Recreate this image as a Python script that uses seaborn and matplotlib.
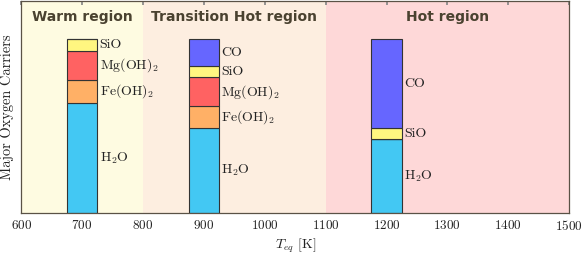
import seaborn as sns
import matplotlib.pyplot as plt
import numpy as np

# equilibrium temperatures of the three cases
temps = [700, 900, 1200]
species = ['H$_2$O', 'Fe(OH)$_2$', 'Mg(OH)$_2$', 'SiO', 'CO']
h2o = [0.635, 0.49, 0.425]
feoh2 = [0.13, 0.125, 0.0]
mgoh2 = [0.17, 0.165, 0.0]
sio = [0.065, 0.065, 0.065]
co = [0.0, 0.155, 0.51]

regions = ['Warm region', 'Transition Hot region', 'Hot region']
region_lo = [600, 800, 1100]
region_hi = [800, 1100, 1500]

sns.set_theme(style='white')
plt.rcParams['font.family'] = 'serif'
plt.rcParams['font.serif'] = ['cmr10']
plt.rcParams['mathtext.fontset'] = 'cm'
plt.rcParams['axes.formatter.use_mathtext'] = True

colors = ['#43c8f3', '#ffb066', '#ff6262', '#fff680', '#6666ff']
region_colors = ['#fefbe1', '#fdeee0', '#fed8d8']

fig = plt.figure(figsize=(5.88, 2.56), dpi=100)
ax = fig.add_axes([0.036, 0.168, 0.932, 0.828])

for lo, hi, c, name in zip(region_lo, region_hi, region_colors, regions):
    ax.axvspan(lo, hi, color=c, zorder=0, lw=0)
    ax.text((lo + hi) / 2, 1.13, name, ha='center', va='center', fontsize=10,
            fontweight='bold', family='DejaVu Sans', color='#4a4230')

layers = [h2o, feoh2, mgoh2, sio, co]
width = 50
bottom = np.zeros(len(temps))
for vals, c, name in zip(layers, colors, species):
    vals = np.array(vals)
    ax.bar(temps, vals, width=width, bottom=bottom, color=c,
           edgecolor='#333333', linewidth=0.8, zorder=2)
    for t, b, v in zip(temps, bottom, vals):
        if v > 0:
            ax.text(t + width / 2 + 4, b + v / 2, name, ha='left', va='center',
                    fontsize=10, color='#222222')
    bottom += vals

ax.set_xlim(600, 1500)
ax.set_ylim(0, 1.22)
ax.set_xticks(np.arange(600, 1501, 100))
ax.set_yticks([])
ax.tick_params(axis='x', direction='in', top=True, length=3, labelsize=9.5,
               color='#888888', labelcolor='#222222', pad=4)
for s in ax.spines.values():
    s.set_color('#5a5246')
    s.set_linewidth(0.9)
ax.set_xlabel('$T_{eq}$ [K]', fontsize=10, color='#222222', labelpad=3)
ax.set_ylabel('Major Oxygen Carriers', fontsize=10.4, color='#222222', labelpad=5)

fig.savefig('out.png', dpi=100)
